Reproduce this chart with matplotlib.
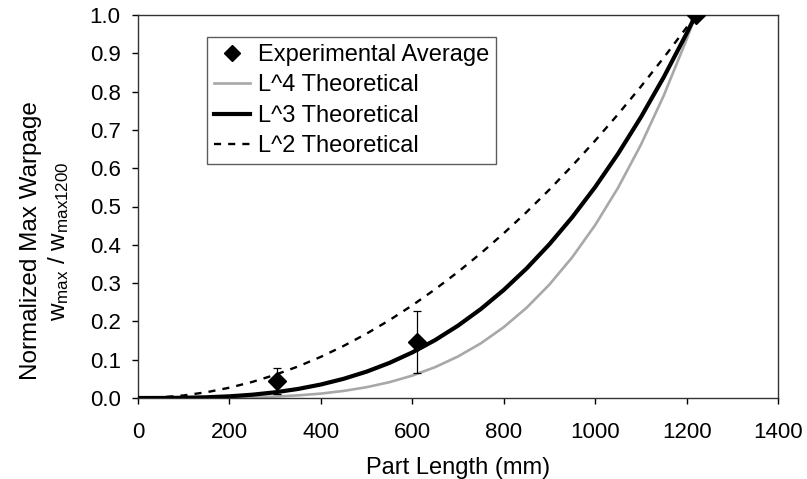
import numpy as np
import matplotlib.pyplot as plt

plt.rcParams['font.family'] = ['Liberation Sans', 'DejaVu Sans']
plt.rcParams['mathtext.fontset'] = 'custom'
plt.rcParams['mathtext.rm'] = 'Liberation Sans'
plt.rcParams['mathtext.it'] = 'Liberation Sans'

# experimental averages with error bars
exp_x = [305, 610, 1220]
exp_y = [0.044, 0.146, 1.0]
exp_err = [0.034, 0.080, 0.0]

# theoretical curves
curve_x = [0, 50, 100, 150, 200, 250, 300, 350, 400, 450, 500, 550, 600,
           650, 700, 750, 800, 850, 900, 950, 1000, 1050, 1100, 1150, 1200, 1220]
l2_y = [0.0, 0.0017, 0.0067, 0.0151, 0.0269, 0.0420, 0.0605, 0.0823, 0.1075,
        0.1361, 0.1680, 0.2032, 0.2419, 0.2839, 0.3292, 0.3779, 0.4300, 0.4854,
        0.5442, 0.6064, 0.6719, 0.7407, 0.8130, 0.8885, 0.9675, 1.0]
l3_y = [0.0, 0.0001, 0.0006, 0.0019, 0.0044, 0.0086, 0.0149, 0.0236, 0.0352,
        0.0502, 0.0688, 0.0916, 0.1190, 0.1512, 0.1889, 0.2323, 0.2820, 0.3382,
        0.4015, 0.4722, 0.5507, 0.6375, 0.7330, 0.8375, 0.9516, 1.0]
l4_y = [0.0, 0.0, 0.00005, 0.0002, 0.0007, 0.0018, 0.0037, 0.0068, 0.0115,
        0.0185, 0.0282, 0.0413, 0.0585, 0.0806, 0.1084, 0.1428, 0.1849, 0.2356,
        0.2962, 0.3677, 0.4514, 0.5487, 0.6609, 0.7894, 0.9360, 1.0]

fig = plt.figure(figsize=(8.07, 4.79), dpi=100)
ax = fig.add_axes([138 / 807, 81 / 479, 640 / 807, 383 / 479])

ax.plot(curve_x, l4_y, color="#a8a8a8", lw=1.9, label="L^4 Theoretical", zorder=2)
ax.plot(curve_x, l3_y, color="black", lw=3.0, label="L^3 Theoretical", zorder=3)
ax.plot(curve_x, l2_y, color="black", lw=1.7, ls=(0, (3, 3)),
        label="L^2 Theoretical", zorder=3)
ax.errorbar(exp_x, exp_y, yerr=exp_err, fmt="none", ecolor="black",
            elinewidth=0.9, capsize=3, capthick=0.9, zorder=4)
ax.plot(exp_x, exp_y, "D", color="black", ms=9, ls="none",
        label="Experimental Average", zorder=5)

ax.set_xlim(0, 1400)
ax.set_ylim(0, 1.0)
ax.set_xticks(np.arange(0, 1401, 200))
ax.set_yticks(np.arange(0, 1.01, 0.1))
ax.set_yticklabels([f"{v:.1f}" for v in np.arange(0, 1.01, 0.1)])
ax.tick_params(direction="out", length=4.5, width=1.0, labelsize=16)
ax.tick_params(axis="x", pad=13)
ax.tick_params(axis="y", pad=8)
for s in ax.spines.values():
    s.set_linewidth(1.0)
    s.set_color("#333333")

ax.set_xlabel("Part Length (mm)", fontsize=17, labelpad=10)
ax.set_ylabel("Normalized Max Warpage\n"
              r"w$_{\mathrm{ max}}$ / w$_{\mathrm{ max1200}}$",
              fontsize=17.5, linespacing=1.25)
ax.yaxis.set_label_coords(-0.104, 0.41)

h, l = ax.get_legend_handles_labels()
order = [3, 0, 1, 2]
leg = ax.legend([h[i] for i in order], [l[i] for i in order],
                loc="upper left", bbox_to_anchor=(0.108, 0.943),
                fontsize=17, frameon=True, fancybox=False, edgecolor="#333333",
                handlelength=1.5, handletextpad=0.35, borderpad=0.3,
                labelspacing=0.36, borderaxespad=0, markerscale=0.9)
leg.get_frame().set_linewidth(1.0)

fig.savefig("out.png", dpi=100)
